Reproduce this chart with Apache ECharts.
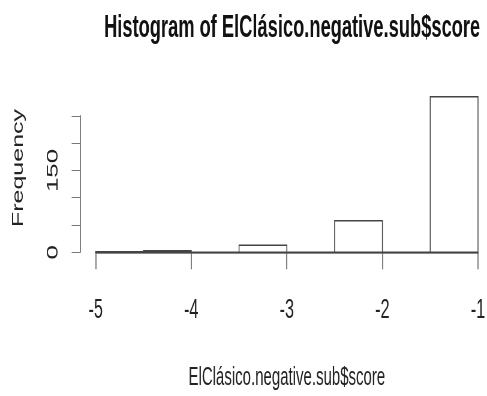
<!DOCTYPE html>
<html>
<head>
<meta charset="utf-8">
<script src="https://cdn.jsdelivr.net/npm/echarts@6/dist/echarts.min.js"></script>
<style>
html,body{margin:0;padding:0;background:#fff}
#wrap{width:487px;height:396px;overflow:hidden}
#c{width:812px;height:396px;transform:scaleX(0.59975);transform-origin:0 0}
</style>
</head>
<body>
<div id="wrap"><div id="c"></div></div>
<script>
// Histogram bins (score) and counts
const binStarts = [-5, -4.5, -4, -3.5, -3, -2.5, -2, -1.5];
const binEnds   = [-4.5, -4, -3.5, -3, -2.5, -2, -1.5, -1];
const counts    = [1, 3, 0, 13, 0, 58, 0, 285];
const xTicks = [-5, -4, -3, -2, -1];
const yTickLabels = ['0', '150'];

const data = binStarts.map((s, i) => [s, binEnds[i], counts[i]]);
const sans = "'Liberation Sans', Arial, Helvetica, sans-serif";

const chart = echarts.init(document.getElementById('c'), null, {renderer: 'canvas', width: 812, height: 396});
chart.setOption({
  animation: false,
  backgroundColor: '#fff',
  title: {
    text: 'Histogram of ElClásico.negative.sub$score',
    left: 482, top: 8, textAlign: 'center',
    textStyle: {fontFamily: sans, fontWeight: 'bold', fontSize: 30.5, color: '#111'}
  },
  grid: {left: 159.5, right: 12, top: 115.8, bottom: 143.7},
  xAxis: {
    type: 'value', min: -5, max: -1, interval: 1, offset: 7,
    name: 'ElClásico.negative.sub$score', nameLocation: 'middle', nameGap: 106,
    nameTextStyle: {fontFamily: sans, fontSize: 25, color: '#222'},
    axisLine: {lineStyle: {color: '#888', width: 2}},
    axisTick: {length: 17, lineStyle: {color: '#555', width: 1.5}},
    axisLabel: {margin: 38, fontFamily: sans, fontSize: 27, color: '#222',
      formatter: v => xTicks.includes(v) ? String(v) : ''},
    splitLine: {show: false}
  },
  yAxis: {
    type: 'value', min: 0, max: 250, interval: 50, offset: 26.2,
    axisLine: {show: true, lineStyle: {color: '#555', width: 1.5}},
    axisTick: {show: true, length: 13.8, lineStyle: {color: '#777', width: 1}},
    axisLabel: {rotate: 90, margin: 31, fontFamily: sans, fontSize: 26, color: '#222',
      formatter: v => yTickLabels.includes(String(v)) ? String(v) : ''},
    splitLine: {show: false}
  },
  graphic: [{
    type: 'text', x: 31, y: 168, rotation: Math.PI / 2,
    style: {text: 'Frequency', fontFamily: sans, fontSize: 25,
      fill: '#222', textAlign: 'center', textVerticalAlign: 'middle'}
  }],
  series: [{
    type: 'custom', clip: false,
    encode: {x: [0, 1], y: 2},
    data: data,
    renderItem: function (params, api) {
      const p0 = api.coord([api.value(0), api.value(2)]);
      const p1 = api.coord([api.value(1), 0]);
      return {
        type: 'rect',
        shape: {x: p0[0], y: p0[1], width: p1[0] - p0[0], height: p1[1] - p0[1]},
        style: {fill: '#fff', stroke: '#444', lineWidth: 1.5}
      };
    }
  }]
});
</script>
</body>
</html>
